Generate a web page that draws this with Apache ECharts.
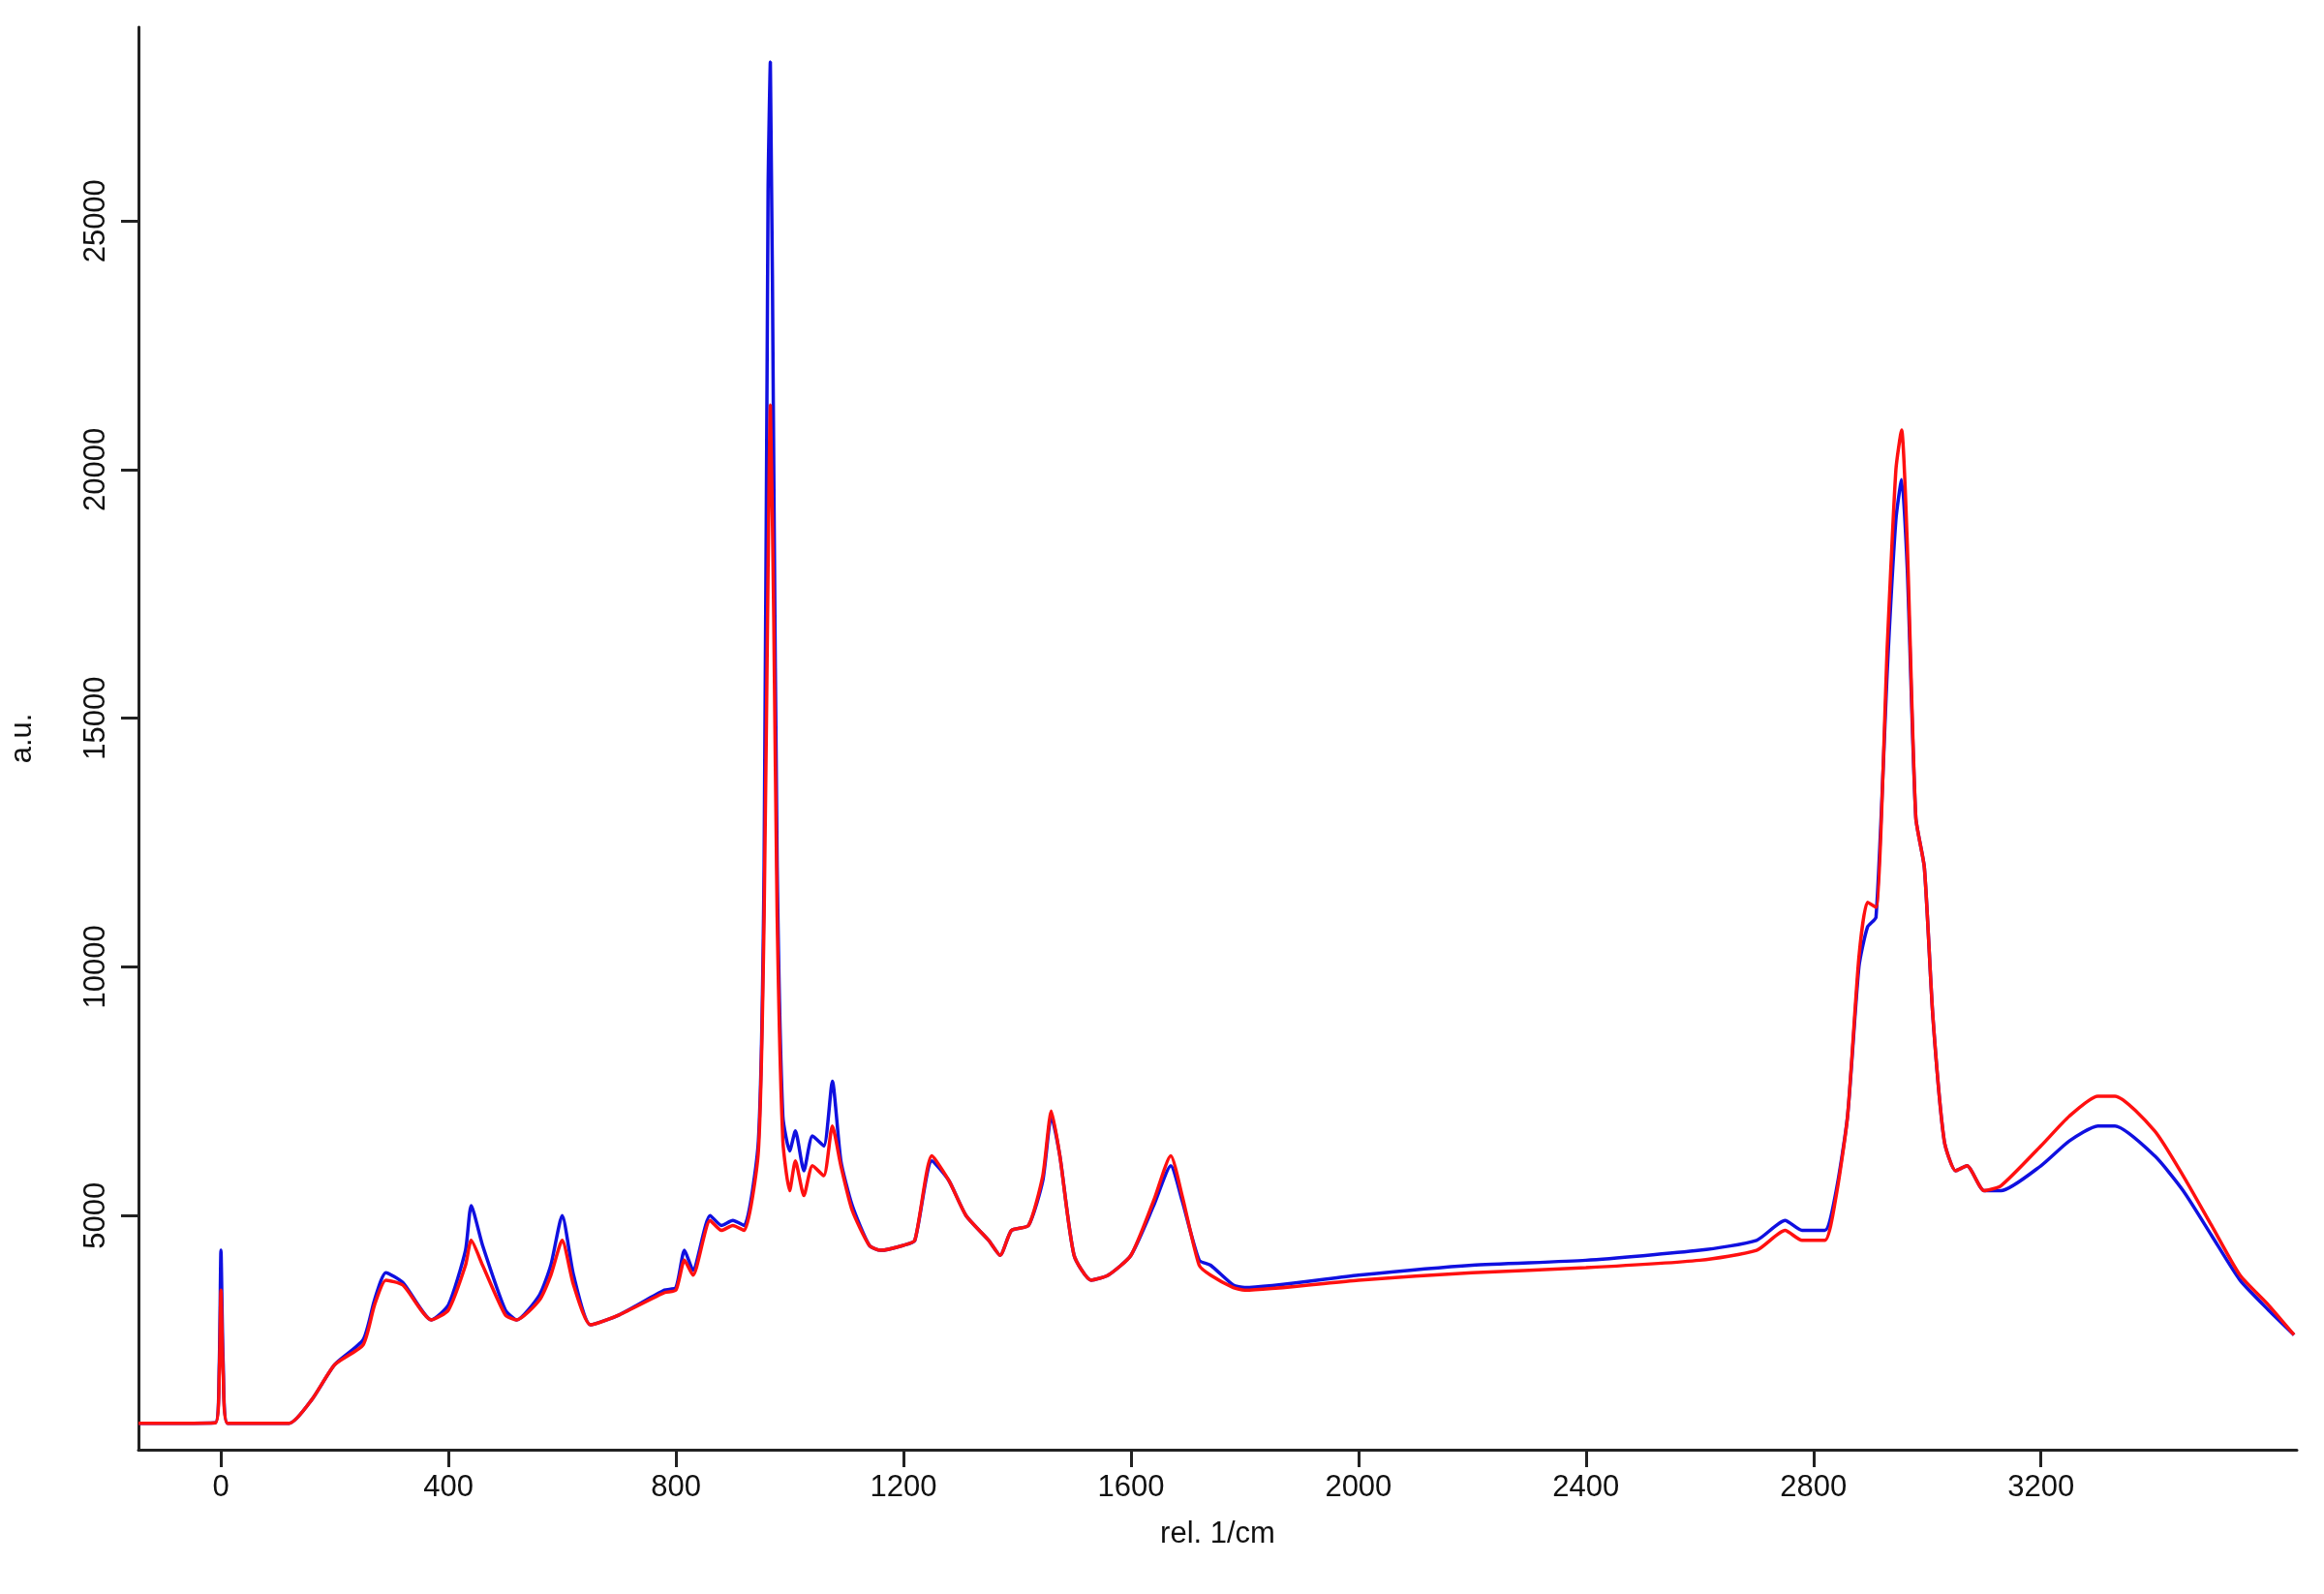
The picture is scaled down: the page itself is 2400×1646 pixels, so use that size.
<!DOCTYPE html>
<html><head><meta charset="utf-8">
<script src="https://cdn.jsdelivr.net/npm/echarts@6/dist/echarts.min.js"></script>
<style>html,body{margin:0;background:#fff}#c{width:2400px;height:1646px}</style>
</head><body><div id="c"></div>
<script>
const xTicks=[0,400,800,1200,1600,2000,2400,2800,3200];
const yTicks=[5000,10000,15000,20000,25000];
const blue=[[-145,820],[-10,830],[-3,2000],[0,4300],[4,2000],[12,820],[120,820],[160,1300],[200,2000],[250,2500],[270,3300],[290,3850],[320,3650],[370,2900],[400,3200],[430,4300],[440,5200],[460,4400],[500,3100],[520,2900],[560,3400],[580,4000],[600,5000],[620,3800],[650,2800],[700,3000],[780,3500],[800,3550],[815,4300],[830,3900],[860,5000],[880,4800],[900,4900],[920,4800],[945,6500],[955,12000],[962,25600],[966,28200],[972,20000],[978,12000],[988,7000],[1000,6300],[1010,6700],[1025,5900],[1040,6600],[1060,6400],[1075,7700],[1090,6100],[1110,5200],[1140,4400],[1160,4300],[1200,4400],[1220,4500],[1250,6100],[1280,5700],[1310,5000],[1350,4500],[1370,4200],[1390,4700],[1420,4800],[1445,5700],[1460,7000],[1475,6200],[1500,4200],[1530,3700],[1560,3800],[1600,4200],[1640,5200],[1670,6000],[1690,5300],[1720,4100],[1740,4000],[1780,3600],[1800,3550],[2000,3800],[2200,4000],[2400,4100],[2600,4300],[2700,4500],[2750,4900],[2780,4700],[2820,4700],[2840,5500],[2860,7000],[2880,10000],[2895,10800],[2910,11000],[2930,16000],[2945,19000],[2955,19800],[2965,18000],[2980,13000],[2995,12000],[3010,9000],[3030,6500],[3050,5900],[3070,6000],[3100,5500],[3130,5500],[3200,6000],[3250,6500],[3300,6800],[3330,6800],[3400,6200],[3450,5500],[3500,4600],[3550,3700],[3600,3100],[3645,2600]];
const red=[[-145,820],[-10,830],[-3,1800],[0,3500],[4,1800],[12,820],[120,820],[160,1300],[200,2000],[250,2400],[270,3200],[290,3700],[320,3600],[370,2900],[400,3100],[430,4000],[440,4500],[460,4000],[500,3000],[520,2900],[560,3300],[580,3800],[600,4500],[620,3600],[650,2800],[700,3000],[780,3450],[800,3500],[815,4100],[830,3800],[860,4900],[880,4700],[900,4800],[920,4700],[945,6300],[955,11000],[962,18000],[966,21300],[972,17000],[978,11000],[988,6500],[1000,5500],[1010,6100],[1025,5400],[1040,6000],[1060,5800],[1075,6800],[1090,6000],[1110,5100],[1140,4400],[1160,4300],[1200,4400],[1220,4500],[1250,6200],[1280,5700],[1310,5000],[1350,4500],[1370,4200],[1390,4700],[1420,4800],[1445,5800],[1460,7100],[1475,6200],[1500,4200],[1530,3700],[1560,3800],[1600,4200],[1640,5300],[1670,6200],[1690,5400],[1720,4000],[1740,3800],[1780,3550],[1800,3500],[2000,3700],[2200,3850],[2400,3950],[2600,4100],[2700,4300],[2750,4700],[2780,4500],[2820,4500],[2840,5400],[2860,7000],[2880,10200],[2895,11300],[2910,11200],[2930,16500],[2945,20000],[2955,20800],[2965,18500],[2980,13000],[2995,12000],[3010,9000],[3030,6500],[3050,5900],[3070,6000],[3100,5500],[3130,5600],[3200,6400],[3250,7000],[3300,7400],[3330,7400],[3400,6700],[3450,5800],[3500,4800],[3550,3800],[3600,3200],[3645,2600]];
const chart=echarts.init(document.getElementById('c'));
const lab={color:'#111',fontSize:31,fontFamily:'Liberation Sans, Arial'};
chart.setOption({
 animation:false,
 grid:{left:141,right:28,top:28,bottom:149},
 xAxis:{type:'value',min:-145,max:3650,name:'rel. 1/cm',nameLocation:'middle',nameGap:72,
  nameTextStyle:{...lab},
  axisLine:{onZero:false,lineStyle:{color:'#222',width:3}},
  axisTick:{customValues:xTicks,length:18,lineStyle:{color:'#222',width:3}},
  axisLabel:{customValues:xTicks,margin:24,formatter:v=>String(v),...lab},splitLine:{show:false}},
 yAxis:{type:'value',min:290,max:28900,name:'a.u.',nameLocation:'middle',nameGap:104,nameRotate:90,
  nameTextStyle:{...lab},
  axisLine:{show:true,onZero:false,lineStyle:{color:'#222',width:3}},
  axisTick:{show:true,customValues:yTicks,length:18,lineStyle:{color:'#222',width:3}},
  axisLabel:{customValues:yTicks,rotate:90,margin:28,formatter:v=>String(v),...lab},splitLine:{show:false}},
 series:[
  {type:'line',data:blue,showSymbol:false,smooth:0.2,lineStyle:{color:'#1010e0',width:3.5}},
  {type:'line',data:red,showSymbol:false,smooth:0.2,lineStyle:{color:'#ff1010',width:3.5}}
 ]
});
</script></body></html>
